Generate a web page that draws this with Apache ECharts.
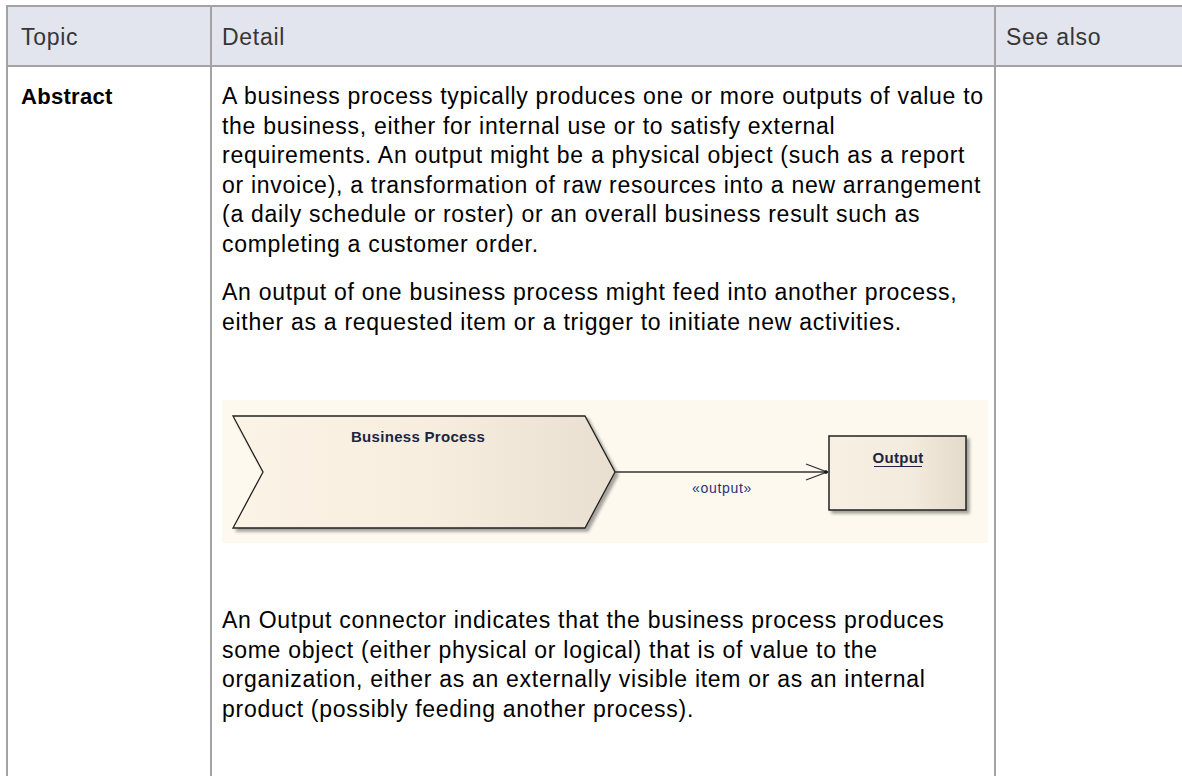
<!DOCTYPE html>
<html><head><meta charset="utf-8">
<script src="https://cdn.jsdelivr.net/npm/echarts@6/dist/echarts.min.js"></script>
<style>
html,body{margin:0;padding:0;background:#fff;}
#main{width:1182px;height:776px;}
#main text{letter-spacing:0.72px;}
#main text[style*="bold"]{letter-spacing:0.3px;}
</style></head><body><div id="main"></div>
<script>
// ---- content ----
const headers = ['Topic', 'Detail', 'See also'];
const topic = 'Abstract';
const para1 = [
  'A business process typically produces one or more outputs of value to',
  'the business, either for internal use or to satisfy external',
  'requirements. An output might be a physical object (such as a report',
  'or invoice), a transformation of raw resources into a new arrangement',
  '(a daily schedule or roster) or an overall business result such as',
  'completing a customer order.'
];
const para2 = [
  'An output of one business process might feed into another process,',
  'either as a requested item or a trigger to initiate new activities.'
];
const para3 = [
  'An Output connector indicates that the business process produces',
  'some object (either physical or logical) that is of value to the',
  'organization, either as an externally visible item or as an internal',
  'product (possibly feeding another process).'
];
const diagramLabels = ['Business Process', '\u00aboutput\u00bb', 'Output'];

// ---- layout ----
const W = 1182, H = 776;
const L = 7, T = 6, HB = 66, C1 = 211, C2 = 995;
const border = '#a3a3a3';
const FAM = '"Liberation Sans", Arial, sans-serif';
const LH = 29.6;
const P1Y = 104, P2Y = 300, P3Y = 628;
const TX = 222;

const chart = echarts.init(document.getElementById('main'), null, {renderer: 'svg'});
const g = [];
function txt(s, x, baseline, size, weight, fill, align) {
  g.push({type: 'text', x: x, y: baseline - size * 0.35, z: 10,
    style: {text: s, font: (weight ? weight + ' ' : '') + size + 'px ' + FAM, fill: fill,
      align: align || 'left', verticalAlign: 'middle'}});
}
function line(x1, y1, x2, y2, stroke, lw, z) {
  g.push({type: 'line', z: z || 5, shape: {x1, y1, x2, y2}, style: {stroke, lineWidth: lw}});
}
// header background
g.push({type: 'rect', z: 1, shape: {x: L, y: T, width: W - L, height: HB - T}, style: {fill: '#e2e5ed'}});
// table borders
line(L - 1, T, W, T, border, 2);
line(L - 1, HB, W, HB, border, 2);
line(L, T, L, H, border, 2);
line(C1, T, C1, H, border, 2);
line(C2, T, C2, H, border, 2);
// header texts
txt(headers[0], 21, 45, 23, '', '#363636');
txt(headers[1], TX, 45, 23, '', '#363636');
txt(headers[2], 1006, 45, 23, '', '#363636');
// topic
txt(topic, 21, P1Y, 22, 'bold', '#000');
// paragraphs
para1.forEach((s, i) => txt(s, TX, P1Y + i * LH, 23, '', '#000'));
para2.forEach((s, i) => txt(s, TX, P2Y + i * LH, 23, '', '#000'));
para3.forEach((s, i) => txt(s, TX, P3Y + i * LH, 23, '', '#000'));

// diagram
g.push({type: 'rect', z: 2, shape: {x: 222, y: 400, width: 766, height: 143}, style: {fill: '#fdf9ef'}});
const grad1 = new echarts.graphic.LinearGradient(0, 0, 1, 0, [
  {offset: 0, color: '#fbf3e5'}, {offset: 0.5, color: '#f7eee0'}, {offset: 1, color: '#e9dfd0'}]);
g.push({type: 'polygon', z: 3,
  shape: {points: [[233, 416], [585, 416], [615, 472], [585, 528], [233, 528], [263, 472]]},
  style: {fill: grad1, stroke: '#222', lineWidth: 1.3,
    shadowBlur: 3, shadowOffsetX: 3, shadowOffsetY: 3, shadowColor: 'rgba(0,0,0,0.35)'}});
txt(diagramLabels[0], 418, 442, 15, 'bold', '#1d2540', 'center');
// connector
line(615, 472, 827, 472, '#333', 1.5, 4);
g.push({type: 'polyline', z: 4, shape: {points: [[806, 464], [827, 472], [806, 480]]},
  style: {stroke: '#333', lineWidth: 1.3, fill: null}});
g.push({type: 'circle', z: 4, shape: {cx: 826, cy: 472, r: 1.8}, style: {fill: '#111'}});
txt(diagramLabels[1], 722, 493, 14, '', '#25347a', 'center');
// output box
const grad2 = new echarts.graphic.LinearGradient(0, 0, 1, 0, [
  {offset: 0, color: '#f7f0e3'}, {offset: 0.6, color: '#f3ebdd'}, {offset: 1, color: '#e4dacb'}]);
g.push({type: 'rect', z: 3, shape: {x: 829, y: 436, width: 137, height: 74},
  style: {fill: grad2, stroke: '#222', lineWidth: 1.5,
    shadowBlur: 3, shadowOffsetX: 3, shadowOffsetY: 3, shadowColor: 'rgba(0,0,0,0.35)'}});
txt(diagramLabels[2], 898, 463, 15, 'bold', '#1d2540', 'center');
line(874, 466.5, 922, 466.5, '#1d2540', 1.2, 10);

chart.setOption({animation: false, graphic: {elements: g}});
</script></body></html>
